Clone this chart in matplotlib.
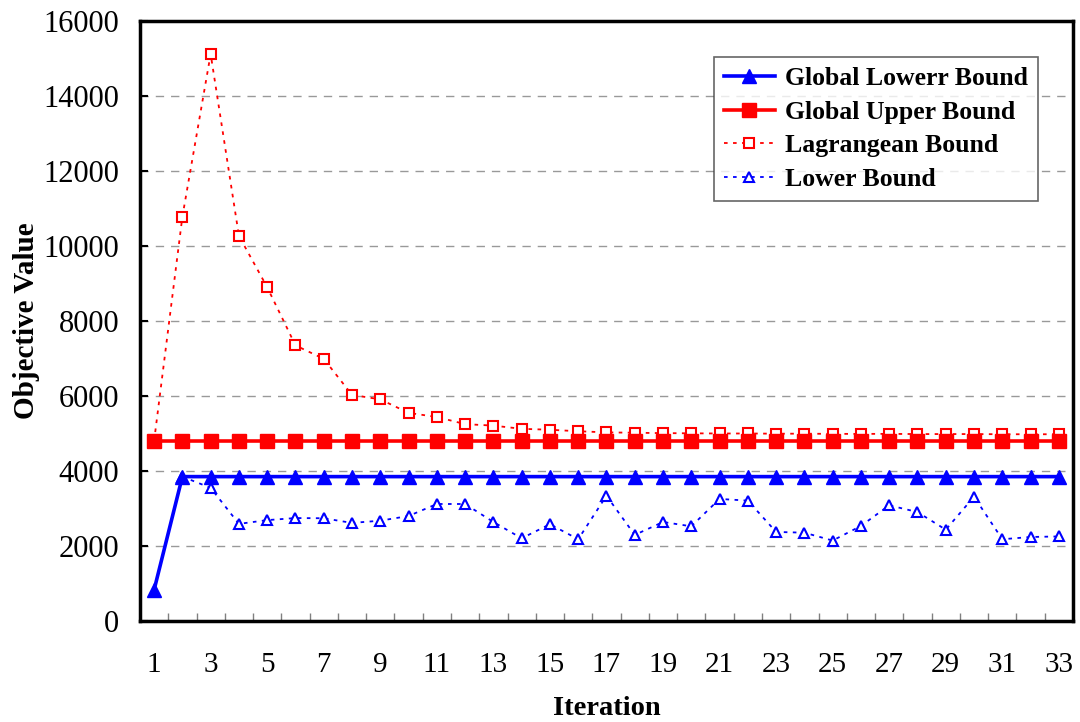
import numpy as np
import matplotlib
matplotlib.use("Agg")
import matplotlib.pyplot as plt
from matplotlib.ticker import FixedLocator

plt.rcParams['font.family'] = ['Liberation Serif', 'DejaVu Serif']

# iteration numbers and the four bound series
iterations = list(range(1, 34))
global_lower = [830] + [3850] * 32
global_upper = [4800] * 33
lagrangean = [4800, 10780, 15120, 10270, 8900, 7350, 6990, 6030, 5910, 5550,
              5440, 5250, 5210, 5125, 5100, 5060, 5030, 5020, 5010, 5005,
              5000, 5000, 4995, 4995, 4990, 4990, 4990, 4985, 4985, 4985,
              4980, 4980, 4980]
lower = [3850, 3550, 2590, 2690, 2745, 2740, 2615, 2675, 2800, 3120,
         3120, 2640, 2205, 2580, 2180, 3340, 2295, 2640, 2525, 3255,
         3210, 2375, 2355, 2145, 2535, 3085, 2905, 2435, 3315, 2180,
         2240, 2255]
lower = [None] + lower  # no lower bound at the first iteration

y_ticks = list(range(0, 16001, 2000))
x_labels = [str(i) for i in range(1, 34, 2)]

fig = plt.figure(figsize=(10.8, 7.22), dpi=100)
ax = fig.add_axes([0.1296, 0.1399, 0.8639, 0.8310])

x = np.array(iterations)
low = np.array([np.nan if v is None else v for v in lower], dtype=float)

ax.plot(x, global_lower, color='#0000ff', lw=2.6, marker='^', ms=10,
        label='Global Lowerr Bound', zorder=4)
ax.plot(x, global_upper, color='#ff0000', lw=2.6, marker='s', ms=10,
        label='Global Upper Bound', zorder=4)
ax.plot(x, lagrangean, color='#ff0000', lw=1.3, ls=(0, (2, 3)), marker='s',
        ms=7, mfc='white', mec='#ff0000', mew=1.5,
        label='Lagrangean Bound', zorder=3)
ax.plot(x, low, color='#0000ff', lw=1.3, ls=(0, (2, 3)), marker='^',
        ms=7, mfc='white', mec='#0000ff', mew=1.5,
        label='Lower Bound', zorder=3)

ax.set_xlim(0.5, 33.5)
ax.set_ylim(0, 16000)
ax.set_yticks(y_ticks)
ax.set_yticklabels([str(v) for v in y_ticks])
ax.set_xticks(list(range(1, 34, 2)))
ax.set_xticklabels(x_labels)
ax.xaxis.set_minor_locator(FixedLocator(np.arange(0.5, 34, 1)))

ax.tick_params(axis='x', which='major', length=0, pad=22, labelsize=21)
ax.tick_params(axis='x', which='minor', direction='in', length=6,
               width=1, color='#808080')
ax.tick_params(axis='y', direction='in', length=6, width=1.5,
               pad=15, labelsize=22)

ax.yaxis.grid(True, ls=(0, (6, 5)), color='#999999', lw=1)
ax.set_axisbelow(True)

for s in ax.spines.values():
    s.set_linewidth(2.5)
    s.set_color('black')

ax.set_xlabel('Iteration', fontsize=20.5, fontweight='bold', labelpad=13)
ax.set_ylabel('Objective Value', fontsize=21, fontweight='bold', labelpad=2)

leg = ax.legend(loc='upper right', bbox_to_anchor=(0.9625, 0.94),
                borderaxespad=0,
                prop={'weight': 'bold', 'size': 18.5},
                frameon=True, fancybox=False, handlelength=2.0,
                handletextpad=0.4, labelspacing=0.42, borderpad=0.38)
leg.get_frame().set_edgecolor('#404040')
leg.get_frame().set_linewidth(1.2)

fig.savefig('out.png', dpi=100)
